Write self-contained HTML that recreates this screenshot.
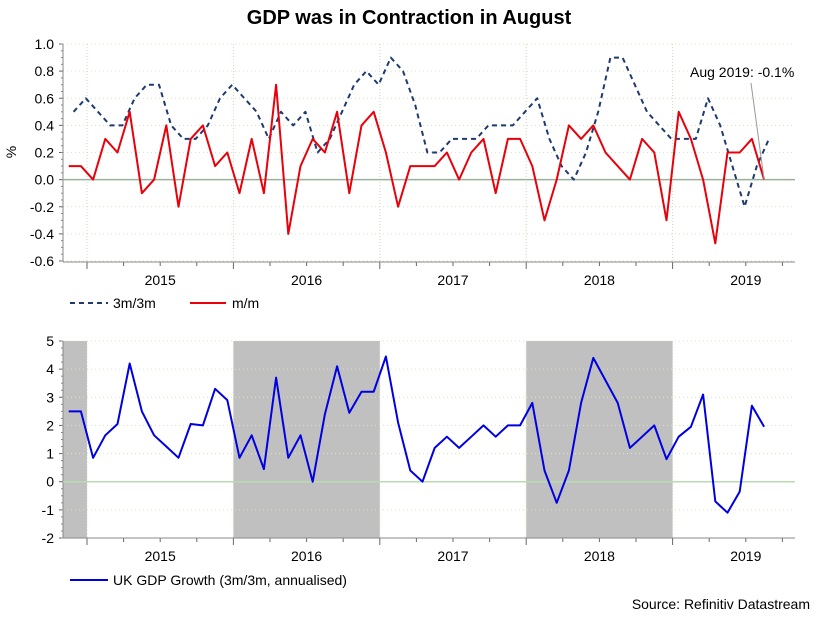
<!DOCTYPE html>
<html><head><meta charset="utf-8"><style>
body{margin:0;background:#fff;}
svg text{font-family:"Liberation Sans",sans-serif;}
</style></head><body>
<svg id="c" width="818" height="631" xmlns="http://www.w3.org/2000/svg">
<text x="409" y="24" text-anchor="middle" font-size="20" font-weight="bold">GDP was in Contraction in August</text>
<g id="top"></g><g id="bot"></g>
<text x="16" y="152" font-size="14" transform="rotate(-90 16 152)" text-anchor="middle">%</text>
<g>
<line x1="70" y1="303" x2="108" y2="303" stroke="#1f3a6e" stroke-width="2" stroke-dasharray="5,4"/>
<text x="113" y="308" font-size="14">3m/3m</text>
<line x1="190" y1="303" x2="226" y2="303" stroke="#e8000b" stroke-width="2"/>
<text x="232" y="308" font-size="14">m/m</text>
</g>
<g>
<line x1="70" y1="580" x2="108" y2="580" stroke="#0000e0" stroke-width="2"/>
<text x="113" y="585" font-size="14">UK GDP Growth (3m/3m, annualised)</text>
</g>
<text x="810" y="609" font-size="14" text-anchor="end">Source: Refinitiv Datastream</text>
</svg>
<script>
const years=["2015","2016","2017","2018","2019"];
const mm=[0.1,0.1,0,0.3,0.2,0.5,-0.1,0,0.4,-0.2,0.3,0.4,0.1,0.2,-0.1,0.3,-0.1,0.7,-0.4,0.1,0.3,0.2,0.5,-0.1,0.4,0.5,0.2,-0.2,0.1,0.1,0.1,0.2,0,0.2,0.3,-0.1,0.3,0.3,0.1,-0.3,0,0.4,0.3,0.4,0.2,0.1,0,0.3,0.2,-0.3,0.5,0.3,0,-0.47,0.2,0.2,0.3,0];
const m3=[0.5,0.6,0.5,0.4,0.4,0.6,0.7,0.7,0.4,0.3,0.3,0.4,0.6,0.7,0.6,0.5,0.3,0.5,0.4,0.5,0.2,0.3,0.5,0.7,0.8,0.7,0.9,0.8,0.55,0.2,0.2,0.3,0.3,0.3,0.4,0.4,0.4,0.5,0.6,0.3,0.1,0,0.2,0.5,0.9,0.9,0.7,0.5,0.4,0.3,0.3,0.3,0.6,0.4,0.1,-0.2,0.1,0.3];
const gdp=[2.5,2.5,0.85,1.65,2.05,4.2,2.5,1.65,1.25,0.85,2.05,2.0,3.3,2.9,0.85,1.65,0.45,3.7,0.85,1.65,0,2.4,4.1,2.45,3.2,3.2,4.45,2.1,0.4,0,1.2,1.6,1.2,1.6,2.0,1.6,2.0,2.0,2.8,0.4,-0.75,0.4,2.8,4.4,3.6,2.8,1.2,1.6,2.0,0.8,1.6,1.95,3.1,-0.7,-1.1,-0.35,2.7,1.95];
const topTicks=[1.0,0.8,0.6,0.4,0.2,0.0,-0.2,-0.4,-0.6];
const botTicks=[5,4,3,2,1,0,-1,-2];
const shade=[[-2,0],[12,24],[36,48]];
const NS="http://www.w3.org/2000/svg";
const L=63,R=795,MW=12.2,J15=87;
function xS(i){return J15+(i-1.5)*MW;}
function xEdge(m){return J15+m*MW;}
function mk(p,t,a){const e=document.createElementNS(NS,t);for(const k in a)e.setAttribute(k,a[k]);p.appendChild(e);return e;}
function drawAxes(g,yS,ticks,fmt,y1,minor,vmin,vmax,zc){
  ticks.forEach(t=>{
    const y=yS(t);
    const gl=mk(g,'line',{x1:L,x2:R,y1:y,y2:y,stroke:'#d8e4c8','stroke-dasharray':'1,3'});
    
    
    const tx=mk(g,'text',{x:L-9,y:y+5,'font-size':14,'text-anchor':'end'});
    tx.textContent=fmt(t);
    
    
    mk(g,'line',{x1:L-4,x2:L,y1:y,y2:y,stroke:'#666'});
  });
  for(let v=vmin;v<=vmax+1e-9;v+=minor){const y=yS(v);mk(g,'line',{x1:L-2,x2:L,y1:y,y2:y,stroke:'#888'});}
  for(let k=0;k<5;k++){
    const x=xEdge(k*12);
    mk(g,'line',{x1:x,x2:x,y1:yS(vmax),y2:y1,stroke:'#c8dcb8','stroke-dasharray':'1,2'});
    const tx=mk(g,'text',{x:x+6*MW,y:y1+23,'font-size':14,'text-anchor':'middle'});
    tx.textContent=years[k];
    
    
  }
  for(let m=-3;m<=57;m+=3){const x=xEdge(m);if(x<L||x>R)continue;mk(g,'line',{x1:x,x2:x,y1:y1,y2:y1+(m%12==0?7:4),stroke:'#666'});}
  mk(g,'line',{x1:L,x2:L,y1:yS(vmax),y2:y1,stroke:'#888'});
  mk(g,'line',{x1:L,x2:R,y1:y1,y2:y1,stroke:'#888'});
  const z=mk(g,'line',{x1:L,x2:R,y1:yS(0),y2:yS(0),stroke:zc,'stroke-width':1.5});
  
  
}
function line(g,vals,yS,col,dash,off,name){
  const d=vals.map((v,i)=>(i?'L':'M')+xS(i+off).toFixed(1)+','+yS(v).toFixed(1)).join('');
  const p=mk(g,'path',{d:d,fill:'none',stroke:col,'stroke-width':2,'stroke-linejoin':'round'});
  if(dash)p.setAttribute('stroke-dasharray',dash);
  
  
}
const topG=document.getElementById('top');


const yT=v=>44+(1.0-v)/1.6*(261-44);
drawAxes(topG,yT,topTicks,t=>t.toFixed(1),262,0.05,-0.6,1.0,'#9ab09a');
line(topG,m3,yT,'#1f3a6e','5,4',0.4,'series-3m3m');
line(topG,mm,yT,'#e8000b',null,0,'series-mm');
const ann=mk(topG,'text',{x:690,y:77,'font-size':14});
ann.textContent='Aug 2019: -0.1%';


mk(topG,'line',{x1:751,y1:83,x2:xS(57),y2:yT(mm[57]),stroke:'#999'});
const botG=document.getElementById('bot');


const yB=v=>341+(5-v)/7*(538-341);
shade.forEach(s=>{
  const x1=Math.max(L,xEdge(s[0]));const x2=xEdge(s[1]);
  const r=mk(botG,'rect',{x:x1,y:yB(5),width:x2-x1,height:yB(-2)-yB(5),fill:'#c0c0c0'});
  
  
});
drawAxes(botG,yB,botTicks,t=>String(t),538,0.25,-2,5,'#b8dcb0');
line(botG,gdp,yB,'#0000e0',null,0,'series-gdp-growth');
</script>
</body></html>
